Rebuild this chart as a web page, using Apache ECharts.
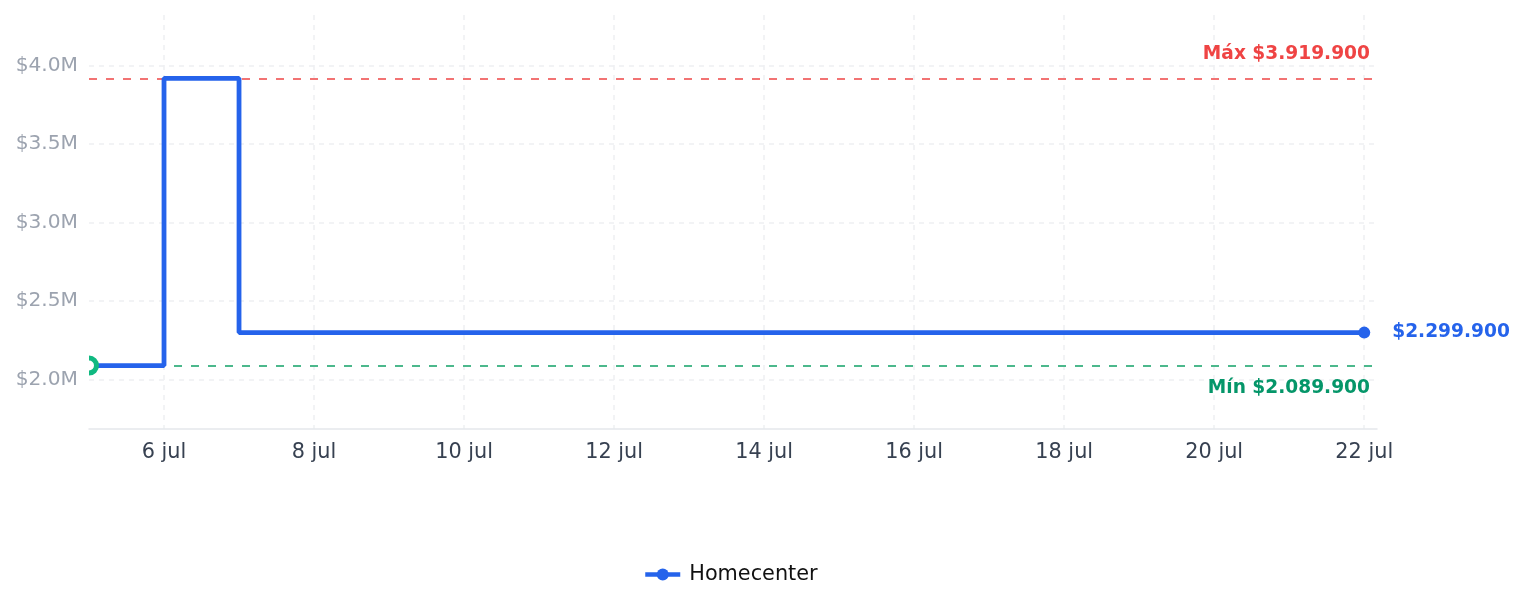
<!DOCTYPE html>
<html>
<head>
<meta charset="utf-8">
<script src="https://cdn.jsdelivr.net/npm/echarts@6/dist/echarts.min.js"></script>
<style>
  html, body { margin: 0; padding: 0; background: #ffffff; }
  #chart { width: 1524px; height: 607px; }
</style>
</head>
<body>
<div id="chart"></div>
<script>
// ---- data ----
var seriesName = 'Homecenter';
var monthLabel = 'jul';
var days = [5, 6, 7, 22];                       // day of July
var prices = [2089900, 3919900, 2299900, 2299900];
var xMin = 5;
var xMax = 22.17;
var yMin = 1686000;
var yMax = 4323000;

function fmtCOP(v) {
  return '$' + String(Math.round(v)).replace(/\B(?=(\d{3})+(?!\d))/g, '.');
}

var FONT = 'DejaVu Sans';
var BLUE = '#2563eb';

var lineData = days.map(function (d, i) {
  var item = { value: [d, prices[i]] };
  if (i === days.length - 1) {
    item.symbol = 'circle';
    item.symbolSize = 12;
    item.label = {
      show: true,
      position: 'right',
      distance: 22,
      formatter: function (p) { return fmtCOP(p.value[1]); },
      color: BLUE,
      fontFamily: FONT,
      fontWeight: 'bold',
      fontSize: 18.6
    };
  } else {
    item.symbol = 'none';
  }
  return item;
});

var chart = echarts.init(document.getElementById('chart'), null, { renderer: 'canvas' });
chart.setOption({
  animation: false,
  backgroundColor: '#ffffff',
  grid: { left: 89, right: 147, top: 15, bottom: 178, containLabel: false },
  legend: {
    data: [seriesName],
    bottom: 17,
    left: 638,
    itemWidth: 35,
    itemHeight: 15,
    itemGap: 10,
    lineStyle: { width: 4.5 },
    textStyle: { fontFamily: FONT, fontSize: 20.8, color: '#111111', padding: [0, 0, 0, 4] }
  },
  xAxis: {
    type: 'value',
    min: xMin,
    max: xMax,
    splitNumber: 8,
    minInterval: 2,
    maxInterval: 2,
    axisLine: { show: true, lineStyle: { color: '#e5e7eb', width: 1.5 } },
    axisTick: { show: false },
    axisLabel: {
      showMinLabel: false,
      showMaxLabel: false,
      margin: 13,
      color: '#374151',
      fontFamily: FONT,
      fontSize: 20.8,
      formatter: function (v) { return Math.round(v) + ' ' + monthLabel; }
    },
    splitLine: {
      show: true,
      showMinLine: false,
      showMaxLine: false,
      lineStyle: { color: '#eef0f2', width: 1.5, type: [5, 5] }
    }
  },
  yAxis: {
    type: 'value',
    min: yMin,
    max: yMax,
    splitNumber: 5,
    axisLine: { show: false },
    axisTick: { show: false },
    axisLabel: {
      showMinLabel: false,
      showMaxLabel: false,
      margin: 11,
      padding: [8, 0, 0, 0],
      color: '#9ca3af',
      fontFamily: FONT,
      fontSize: 20.2,
      formatter: function (v) { return '$' + (v / 1e6).toFixed(1) + 'M'; }
    },
    splitLine: {
      show: true,
      showMinLine: false,
      showMaxLine: false,
      lineStyle: { color: '#eef0f2', width: 1.5, type: [5, 5] }
    }
  },
  series: [
    {
      name: seriesName,
      type: 'line',
      step: 'end',
      symbol: 'circle',
      symbolSize: 12,
      showSymbol: true,
      color: BLUE,
      lineStyle: { color: BLUE, width: 4.8 },
      itemStyle: { color: BLUE },
      z: 3,
      data: lineData,
      markLine: {
        silent: true,
        z: 1,
        symbol: ['none', 'none'],
        data: [
          {
            type: 'max',
            lineStyle: { color: '#f27373', width: 2, type: [8, 9] },
            label: {
              show: true,
              position: 'insideEndTop',
              distance: [7, 15],
              formatter: function (p) { return 'Máx ' + fmtCOP(p.value); },
              color: '#ef4444',
              fontFamily: FONT,
              fontWeight: 'bold',
              fontSize: 18.6
            }
          },
          {
            type: 'min',
            lineStyle: { color: '#4cb88c', width: 2, type: [8, 9] },
            label: {
              show: true,
              position: 'insideEndBottom',
              distance: [7, 13],
              formatter: function (p) { return 'Mín ' + fmtCOP(p.value); },
              color: '#059669',
              fontFamily: FONT,
              fontWeight: 'bold',
              fontSize: 18.6
            }
          }
        ]
      }
    },
    {
      name: 'first',
      type: 'custom',
      clip: true,
      z: 4,
      silent: true,
      data: [[days[0], prices[0]]],
      renderItem: function (params, api) {
        var pt = api.coord([api.value(0), api.value(1)]);
        return {
          type: 'circle',
          shape: { cx: pt[0], cy: pt[1], r: 7.5 },
          style: { fill: '#ffffff', stroke: '#10b981', lineWidth: 5 }
        };
      }
    }
  ]
});
</script>
</body>
</html>
